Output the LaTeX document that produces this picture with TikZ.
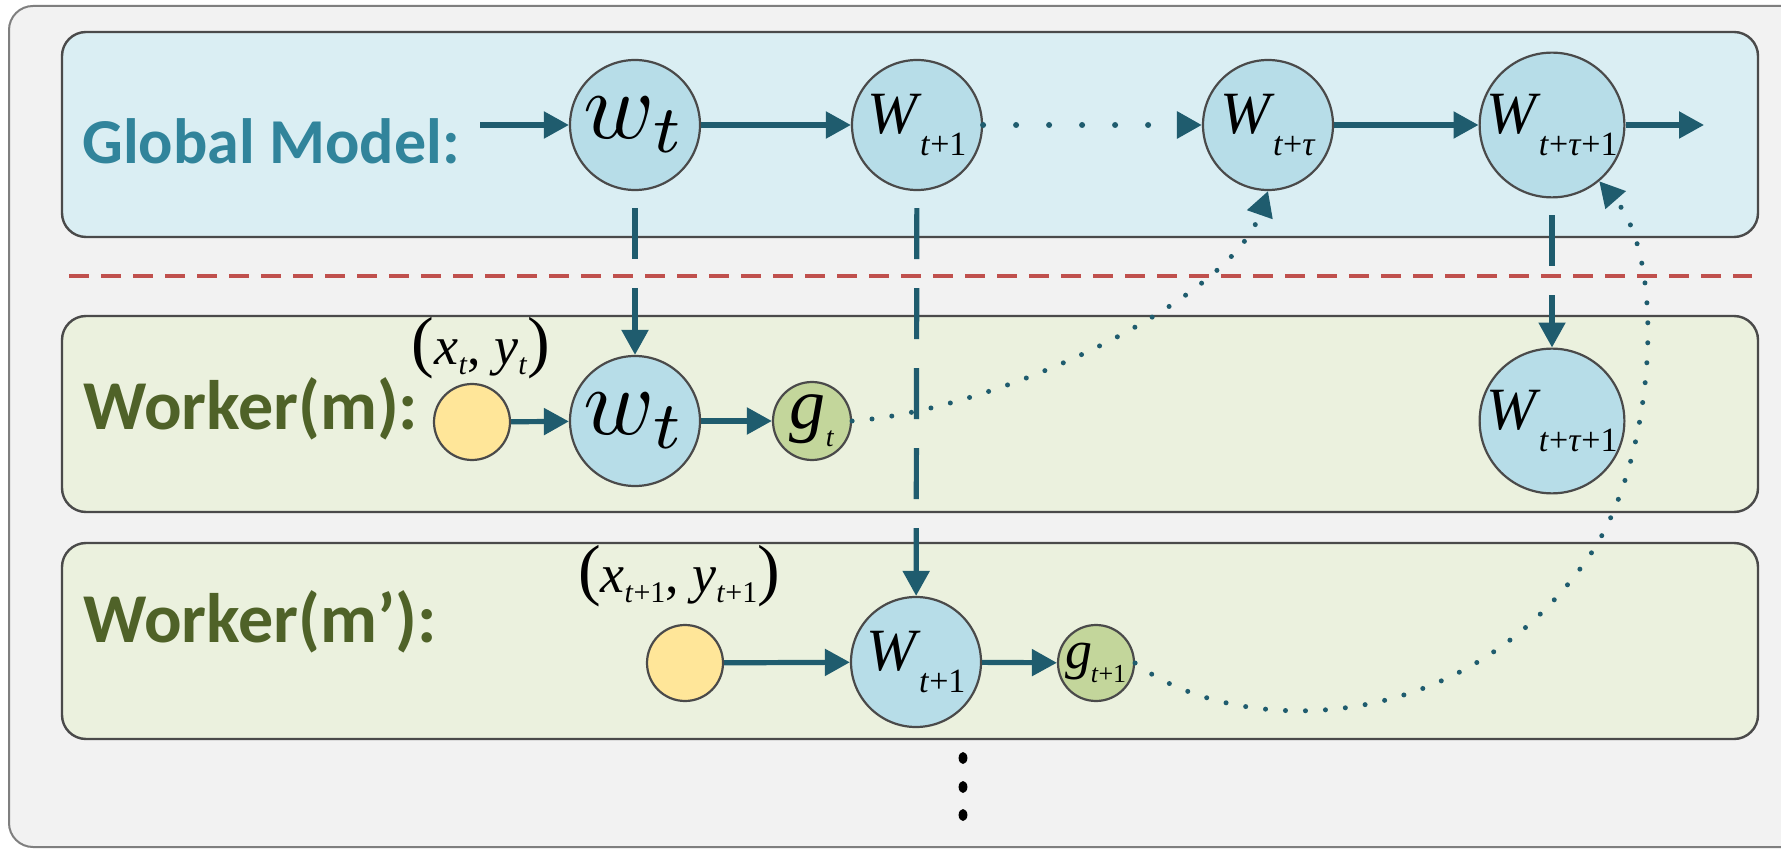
\documentclass[tikz,border=0pt]{standalone}
\usepackage{fontspec}
\setmainfont{Liberation Serif}
\newfontfamily\lblfont{Carlito}
\usetikzlibrary{arrows.meta}
\definecolor{bgout}{HTML}{F2F2F2}
\definecolor{outl}{HTML}{7F7F7F}
\definecolor{boxline}{HTML}{4A4A4A}
\definecolor{gfill}{HTML}{DAEEF3}
\definecolor{wfill}{HTML}{EBF1DE}
\definecolor{bluec}{HTML}{B7DDE8}
\definecolor{yelc}{HTML}{FFE699}
\definecolor{grnc}{HTML}{C3D69B}
\definecolor{arrc}{HTML}{1F5C6E}
\definecolor{redd}{HTML}{C0504D}
\definecolor{gtext}{HTML}{31849B}
\definecolor{wtext}{HTML}{4F6228}
\newcommand\sbs[3]{\raisebox{#1}{\fontsize{#2}{#2}\selectfont #3}}
\newcommand\Wlab[1]{{\fontsize{30pt}{30pt}\selectfont\textit{W}\kern-1pt\sbs{-11pt}{17pt}{#1}}}
\begin{document}
\begin{tikzpicture}[x=0.5pt,y=-0.5pt,
  lbl/.style={font=\lblfont\bfseries\fontsize{#1}{#1}\selectfont, inner sep=0pt, anchor=base west},
  panel/.style={draw=boxline, line width=1.2pt, rounded corners=12pt},
  bc/.style={circle, draw=boxline, line width=1.1pt, fill=bluec, minimum size=65pt, inner sep=0pt},
  yc/.style={circle, draw=boxline, line width=1.1pt, fill=yelc, minimum size=38pt, inner sep=0pt},
  gc/.style={circle, draw=boxline, line width=1.1pt, fill=grnc, minimum size=#1, inner sep=0pt},
  tip/.style={-{Triangle[length=12.5pt,width=13pt]}},
  arr/.style={draw=arrc, line width=2.6pt, tip},
  varr/.style={draw=arrc, line width=2.6pt, tip, dash pattern=on 25.5pt off 14.5pt, shorten <=8.5pt},
  dotc/.style={draw=arrc, line width=2.5pt, line cap=round, dash pattern=on 0pt off 10pt, tip},
  dotg/.style={draw=arrc, line width=3pt, line cap=round, dash pattern=on 0pt off 16.5pt, tip},
  mlab/.style={inner sep=0pt, font=\fontsize{27pt}{27pt}\selectfont}
]
\clip (0,0) rectangle (1781,849);
\useasboundingbox (0,0) rectangle (1781,849);
\fill[white] (0,0) rectangle (1781,849);
% frames
\draw[draw=outl, line width=1pt, fill=bgout, rounded corners=12pt] (9,6) rectangle (1810,847);
\draw[panel, fill=gfill] (62,32) rectangle (1758,237);
\draw[panel, fill=wfill] (62,316) rectangle (1758,512);
\draw[panel, fill=wfill] (62,543) rectangle (1758,739);
\draw[redd, line width=2pt, dash pattern=on 10pt off 6pt] (69,276) -- (1752,276);
% row labels
\node[lbl=32pt, text=gtext] (glab) at (82,164) {Global Model:};
\node[lbl=35pt, text=wtext] (wlab1) at (83,430) {Worker(m):};
\node[lbl=35pt, text=wtext] (wlab2) at (83,642) {Worker(m’):};
% global model
\coordinate (gin) at (480,125);
\coordinate (gout) at (1704,125);
\node[bc] (g1) at (635,125) {\scalebox{4.8}{$w_t$}};
\node[bc] (g2) at (917,125) {\Wlab{\textit{t}+1}};
\node[bc] (g3) at (1268,125) {\Wlab{\textit{t}+\textit{τ}}};
\node[bc] (g4) at (1552,125) {\Wlab{\textit{t}+\textit{τ}+1}};
% worker m
\node[yc] (y1) at (472,422) {};
\node[mlab] (xy1) at (481,348) {{\fontsize{34pt}{34pt}\selectfont(}\textit{x}\sbs{-5pt}{15pt}{\textit{t}}, \textit{y}\sbs{-5pt}{15pt}{\textit{t}}{\fontsize{34pt}{34pt}\selectfont)}};
\node[bc] (w1) at (635,421) {\scalebox{4.8}{$w_t$}};
\node[gc=39pt] (gr1) at (812,421) {{\fontsize{36pt}{36pt}\selectfont\textit{g}\sbs{-9pt}{14pt}{\textit{t}}}};
\node[bc] (w4) at (1552,421) {\Wlab{\textit{t}+\textit{τ}+1}};
% worker m'
\node[yc] (y2) at (685,663) {};
\node[mlab] (xy2) at (679,576) {{\fontsize{34pt}{34pt}\selectfont(}\textit{x}\sbs{-5pt}{15pt}{\textit{t}+1}, \textit{y}\sbs{-5pt}{15pt}{\textit{t}+1}{\fontsize{34pt}{34pt}\selectfont)}};
\node[bc] (w2) at (916,662) {\Wlab{\textit{t}+1}};
\node[gc=38pt] (gr2) at (1096,663) {{\fontsize{27pt}{27pt}\selectfont\textit{g}\kern-1pt\sbs{-7pt}{13pt}{\textit{t}+1}}};
% connectors
\draw[arr] (gin) -- (g1);
\draw[arr] (g1) -- (g2);
\draw[dotg] (g2) -- (g3);
\draw[arr] (g3) -- (g4);
\draw[arr] (g4) -- (gout);
\draw[arr] (y1) -- (w1);
\draw[arr] (w1) -- (gr1);
\draw[arr] (y2) -- (w2);
\draw[arr] (w2) -- (gr2);
\draw[varr] (g1) -- (w1);
\draw[varr] (g2) -- (w2);
\draw[varr] (g4) -- (w4);
\coordinate (mid) at (1590,555);
\draw[dotc] (gr1.east) .. controls (1000,410) and (1230,300) .. (g3.south);
\draw[dotc] (gr2.east) .. controls (1230,735) and (1460,745) .. (mid) .. controls (1655,460) and (1668,260) .. (g4.-50);
% vertical ellipsis
\fill (963,758) ellipse [x radius=2.2pt, y radius=3pt];
\fill (963,787) ellipse [x radius=2.2pt, y radius=3pt];
\fill (963,815) ellipse [x radius=2.2pt, y radius=3pt];
\end{tikzpicture}
\end{document}
